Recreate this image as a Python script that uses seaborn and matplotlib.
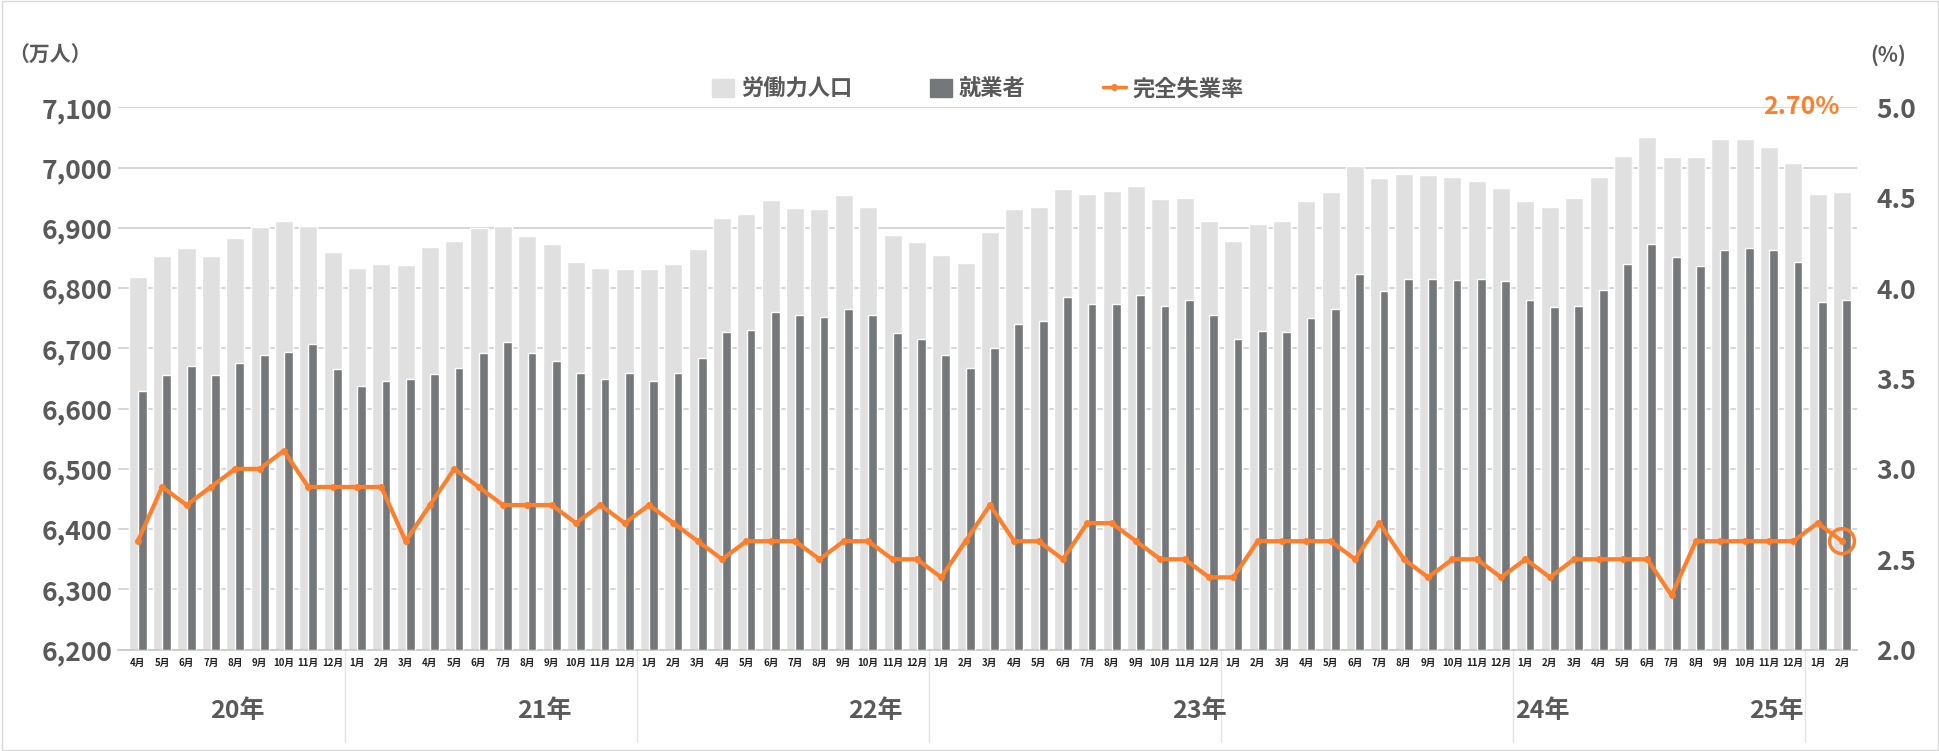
import matplotlib
matplotlib.use("Agg")
import matplotlib.pyplot as plt
import matplotlib.transforms as mtransforms
from matplotlib.lines import Line2D
from matplotlib.patches import Patch
import seaborn as sns
import numpy as np
import pandas as pd

sns.set_theme(style="white")
plt.rcParams['font.family'] = ['Noto Sans CJK JP', 'DejaVu Sans']

months = (["4月","5月","6月","7月","8月","9月","10月","11月","12月"]
          + [f"{m}月" for m in range(1, 13)] * 5 + ["1月", "2月"])
year_labels = ["20年", "21年", "22年", "23年", "24年", "25年"]
year_label_pos = [4.1, 16.7, 30.3, 43.6, 57.7, 67.3]

labor_force = [6818,6854,6866,6853,6883,6901,6911,6903,6860,
               6834,6840,6838,6868,6879,6899,6903,6887,6873,6843,6833,6832,
               6831,6840,6865,6916,6923,6947,6933,6931,6954,6935,6889,6876,
               6855,6841,6893,6932,6934,6965,6957,6962,6970,6948,6950,6911,
               6878,6906,6912,6944,6960,7002,6982,6990,6987,6984,6977,6967,
               6944,6935,6950,6984,7020,7051,7018,7017,7047,7047,7034,7007,
               6957,6960]
employed = [6629,6656,6670,6655,6676,6689,6694,6707,6666,
            6637,6646,6650,6657,6668,6692,6710,6693,6679,6659,6650,6659,
            6646,6659,6684,6728,6731,6760,6756,6752,6766,6756,6725,6716,
            6689,6668,6700,6741,6745,6785,6773,6773,6788,6771,6781,6755,
            6715,6729,6727,6750,6766,6823,6795,6815,6815,6813,6815,6812,
            6780,6769,6770,6797,6840,6874,6851,6836,6864,6866,6863,6844,
            6777,6780]
unemp_rate = [2.6,2.9,2.8,2.9,3.0,3.0,3.1,2.9,2.9,
              2.9,2.9,2.6,2.8,3.0,2.9,2.8,2.8,2.8,2.7,2.8,2.7,
              2.8,2.7,2.6,2.5,2.6,2.6,2.6,2.5,2.6,2.6,2.5,2.5,
              2.4,2.6,2.8,2.6,2.6,2.5,2.7,2.7,2.6,2.5,2.5,2.4,
              2.4,2.6,2.6,2.6,2.6,2.5,2.7,2.5,2.4,2.5,2.5,2.4,
              2.5,2.4,2.5,2.5,2.5,2.5,2.3,2.6,2.6,2.6,2.6,2.6,
              2.7,2.6]
year_starts = [9, 21, 33, 45, 57, 69]

LIGHT = "#e0e0e0"; DARK = "#75787b"; ORANGE = "#fd7f2c"; GREY = "#595959"

n = len(months)
df = pd.DataFrame({"idx": np.arange(n), "lf": labor_force, "emp": employed, "rate": unemp_rate})

fig = plt.figure(figsize=(19.4, 7.51), dpi=100)
ax = fig.add_axes([0.061, 0.135, 0.896, 0.722])
ax.bar(df["idx"], df["lf"] - 6200, bottom=6200, width=0.74, color=LIGHT, zorder=2)
ax.bar(df["idx"] + 0.19, df["emp"] - 6200, bottom=6200, width=0.36, color=DARK, zorder=3)
ax.set_ylim(6200, 7100)
ax.set_xlim(-0.8, n - 0.4)
ax.set_yticks(np.arange(6200, 7101, 100))
ax.set_yticklabels([f"{v:,}" for v in range(6200, 7101, 100)], fontsize=19, fontweight="bold", color=GREY)
ax.yaxis.grid(True, color="#d0d0d0", lw=1.2, zorder=0)
ax.set_xticks(df["idx"])
ax.set_xticklabels(months, fontsize=7, fontweight="bold", color="#222222")
ax.tick_params(axis="x", length=0, pad=6)
ax.tick_params(axis="y", length=0, pad=4)
for s in ["top", "right", "left"]:
    ax.spines[s].set_visible(False)
ax.spines["bottom"].set_color("#c8c8c8")

ax2 = ax.twinx()
sns.lineplot(data=df, x="idx", y="rate", ax=ax2, color=ORANGE, lw=3, marker="o",
             markersize=5, markeredgewidth=0, zorder=5)
ax2.scatter([df["idx"].iloc[-1]], [df["rate"].iloc[-1]], s=320, facecolors="none",
            edgecolors=ORANGE, linewidths=2.5, zorder=6)
ax2.set_ylim(2.0, 5.0)
ax2.set_yticks(np.arange(2.0, 5.01, 0.5))
ax2.set_yticklabels([f"{v:.1f}" for v in np.arange(2.0, 5.01, 0.5)], fontsize=19, fontweight="bold", color=GREY)
ax2.tick_params(axis="y", length=0, pad=14)
ax2.set_ylabel(""); ax2.set_xlabel(""); ax.set_xlabel("")
for s in ["top", "right", "left", "bottom"]:
    ax2.spines[s].set_visible(False)
ax2.set_zorder(ax.get_zorder() + 1); ax2.patch.set_visible(False)

trans = mtransforms.blended_transform_factory(ax.transData, ax.transAxes)
for ys in year_starts:
    ax.add_line(Line2D([ys - 0.5, ys - 0.5], [0, -0.17], transform=trans, color="#e4e4e4",
                       lw=1, clip_on=False))
for lbl, p in zip(year_labels, year_label_pos):
    ax.text(p, -0.114, lbl, transform=trans, ha="center", va="center", fontsize=18,
            fontweight="bold", color=GREY)

fig.text(0.004, 0.926, "（万人）", fontsize=15, fontweight="bold", color=GREY, va="center")
fig.text(0.964, 0.926, "(%)", fontsize=15, fontweight="bold", color=GREY, va="center")
fig.text(0.948, 0.857, "2.70%", fontsize=18, fontweight="bold", color=ORANGE, ha="right", va="center")

handles = [Patch(color=LIGHT, label="労働力人口"), Patch(color=DARK, label="就業者"),
           Line2D([0], [0], color=ORANGE, lw=2.5, marker="o", markersize=4, label="完全失業率")]
fig.legend(handles=handles, loc="center", bbox_to_anchor=(0.504, 0.881), ncol=3, frameon=False,
           prop={"size": 16, "weight": "bold"}, labelcolor=GREY, handlelength=1.0,
           handleheight=0.9, columnspacing=3.5, handletextpad=0.3)

fig.patches.append(plt.Rectangle((0.001, 0.001), 0.998, 0.998, transform=fig.transFigure,
                                 fill=False, edgecolor="#d9d9d9", lw=1))
fig.savefig("out.png", dpi=100)
